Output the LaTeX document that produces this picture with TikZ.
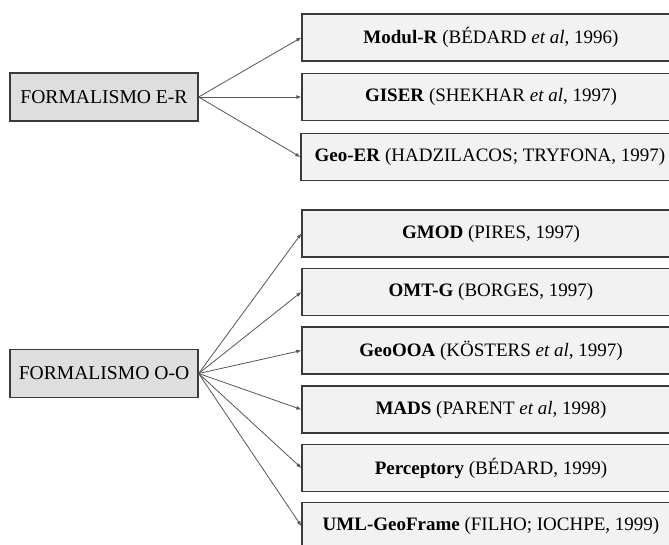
\documentclass[tikz,border=0pt]{standalone}
\usepackage{fontspec}
\setmainfont{Liberation Serif}
\usetikzlibrary{arrows.meta}
\definecolor{boxline}{HTML}{3A3A3A}
\definecolor{leftfill}{HTML}{DEDEDE}
\definecolor{rightfill}{HTML}{F2F2F2}
\definecolor{linkcol}{HTML}{555555}
\begin{document}
\begin{tikzpicture}[x=1pt,y=-1pt,
  formbox/.style={draw=boxline,line width=1.3pt,fill=leftfill,rectangle,
    minimum width=188pt,minimum height=48pt,inner sep=0pt,
    font=\fontsize{19.6}{22}\selectfont},
  modelbox/.style={draw=boxline,line width=1.3pt,fill=rightfill,rectangle,
    minimum width=378pt,minimum height=47pt,inner sep=0pt,
    font=\fontsize{19}{22}\selectfont},
  link/.style={draw=linkcol,line width=0.8pt,-{Latex[length=5pt,width=4pt]}}]
\useasboundingbox (0,0) rectangle (669,545);
\begin{scope}
\clip (0,0) rectangle (669,545);
% E-R formalism and its models
\node[formbox] (er) at (104,97) {FORMALISMO E-R};
\node[modelbox] (modulr) at (491,37.5) {\textbf{Modul-R} (BÉDARD \textit{et al}, 1996)};
\node[modelbox] (giser) at (491,97) {\textbf{GISER} (SHEKHAR \textit{et al}, 1997)};
\node[modelbox] (geoer) at (490,157) {\textbf{Geo-ER} (HADZILACOS; TRYFONA, 1997)};
% O-O formalism and its models
\node[formbox] (oo) at (104,373.5) {FORMALISMO O-O};
\node[modelbox] (gmod) at (491,233.5) {\textbf{GMOD} (PIRES, 1997)};
\node[modelbox] (omtg) at (491,292) {\textbf{OMT-G} (BORGES, 1997)};
\node[modelbox] (geoooa) at (491,350.5) {\textbf{GeoOOA} (KÖSTERS \textit{et al}, 1997)};
\node[modelbox] (mads) at (491,409.5) {\textbf{MADS} (PARENT \textit{et al}, 1998)};
\node[modelbox] (percept) at (491,468) {\textbf{Perceptory} (BÉDARD, 1999)};
\node[modelbox] (umlgf) at (491,526) {\textbf{UML-GeoFrame} (FILHO; IOCHPE, 1999)};
% connectors
\foreach \t in {modulr,giser,geoer}
  \draw[link] (er.east) -- (\t.west);
\foreach \t in {gmod,omtg,geoooa,mads,percept,umlgf}
  \draw[link] (oo.east) -- (\t.west);
\end{scope}
\end{tikzpicture}
\end{document}
